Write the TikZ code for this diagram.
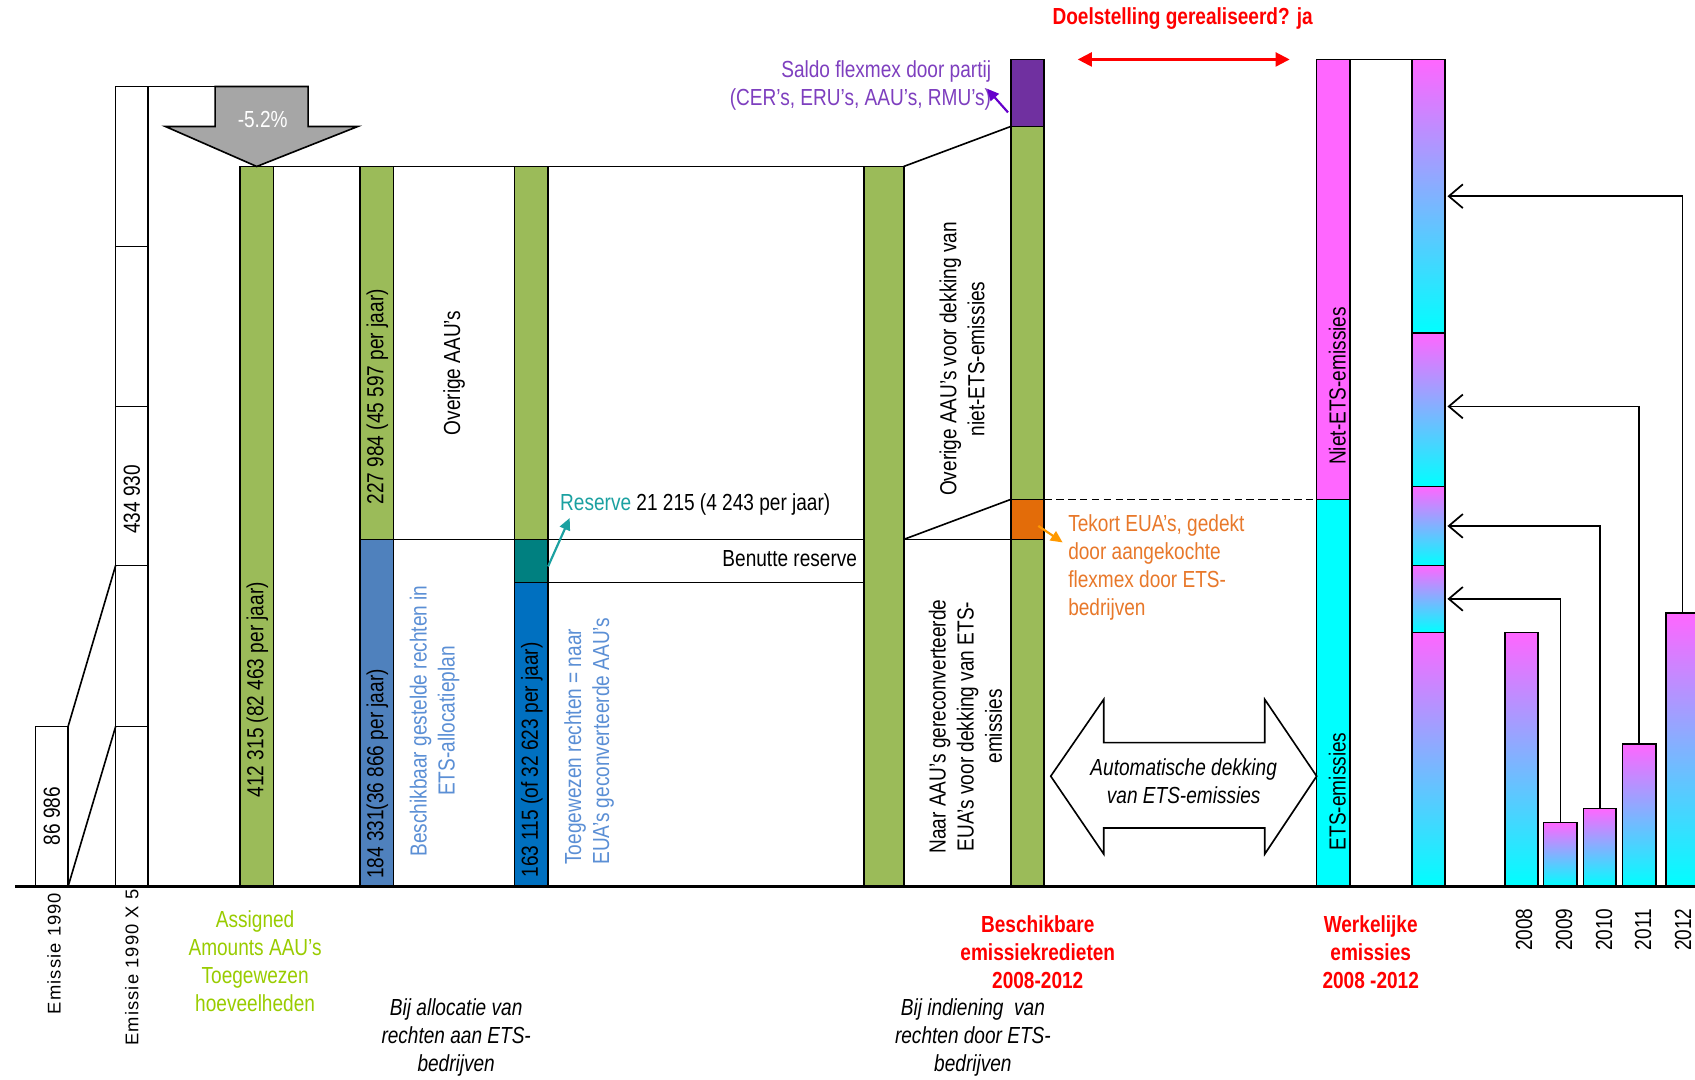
\documentclass[tikz,border=0pt]{standalone}
\usepackage{fontspec}
\setmainfont{Liberation Sans}[FakeStretch=0.82]
\newfontfamily\widefont{Liberation Sans}[LetterSpace=6]
\usetikzlibrary{arrows.meta,calc}
\definecolor{gbar}{HTML}{9BBB59}
\definecolor{blueA}{HTML}{4F81BD}
\definecolor{blueB}{HTML}{0070C0}
\definecolor{tealB}{HTML}{008080}
\definecolor{tealT}{HTML}{1BA1A1}
\definecolor{purpB}{HTML}{7030A0}
\definecolor{purpT}{HTML}{7E3FBF}
\definecolor{purpA}{HTML}{6600CC}
\definecolor{orangeB}{HTML}{E36C09}
\definecolor{orangeT}{HTML}{E8782A}
\definecolor{orangeA}{HTML}{FF9900}
\definecolor{grayA}{HTML}{A6A6A6}
\definecolor{magC}{HTML}{FF66FF}
\definecolor{midC}{HTML}{B6BEFF}
\definecolor{cyanC}{HTML}{00FFFF}
\definecolor{lblue}{HTML}{5B8FD5}
\definecolor{lime}{HTML}{99CC00}
\newcommand\bodyfont{\fontsize{21.5}{26}\selectfont}
\tikzset{
  barbox/.style={draw=black,line width=1.5pt,inner sep=0pt,outer sep=0pt,anchor=north west},
  grad/.style={top color=magC,middle color=midC,bottom color=cyanC},
  vtext/.style={rotate=90,inner sep=0pt},
  conn/.style={line width=1.5pt},
  yeararrow/.style={line width=1.6pt,-{Straight Barb[length=13pt,width=22pt,line width=1.6pt]},shorten >=2pt},
  redlbl/.style={red,font=\bodyfont\bfseries,align=center},
  itlbl/.style={font=\bodyfont\itshape,align=center},
}
\newcommand\mkbar[6]{\node[barbox,#6,minimum width=#3,minimum height={#5-#4}] (#1) at (#2,#4) {};}
\begin{document}
\begin{tikzpicture}[x=1pt,y=-1pt,font=\bodyfont]
\useasboundingbox (0,0) rectangle (1568,999);
\begin{scope}
\clip (0,0) rectangle (1568,999);
\fill[white] (0,0) rectangle (1568,999);

\coordinate (arrTL) at (199,80);
\coordinate (axL) at (14,820);
\coordinate (axR) at (1568,820);

% ---------- bars
\mkbar{e1990}{33}{30}{672}{820}{fill=white}
\mkbar{e5a}{107}{30}{80}{228}{fill=white}
\mkbar{e5b}{107}{30}{228}{376}{fill=white}
\mkbar{e5c}{107}{30}{376}{523}{fill=white}
\mkbar{e5d}{107}{30}{523}{672}{fill=white}
\mkbar{e5e}{107}{30}{672}{820}{fill=white}
\mkbar{g1}{222}{31}{154}{820}{fill=gbar}
\mkbar{b2g}{333}{31}{154}{499}{fill=gbar}
\mkbar{b2b}{333}{31}{499}{820}{fill=blueA}
\mkbar{b3g}{476}{31}{154}{499}{fill=gbar}
\mkbar{b3t}{476}{31}{499}{539}{fill=tealB}
\mkbar{b3b}{476}{31}{539}{820}{fill=blueB}
\mkbar{b4}{799}{37}{154}{820}{fill=gbar}
\mkbar{b5p}{935}{31}{55}{117}{fill=purpB}
\mkbar{b5g1}{935}{31}{117}{462}{fill=gbar}
\mkbar{b5o}{935}{31}{462}{499}{fill=orangeB}
\mkbar{b5g2}{935}{31}{499}{820}{fill=gbar}
\mkbar{b6m}{1218}{31}{55}{462}{fill=magC}
\mkbar{b6c}{1218}{31}{462}{820}{fill=cyanC}
\mkbar{b7a}{1306}{31}{55}{308}{grad}
\mkbar{b7b}{1306}{31}{308}{450}{grad}
\mkbar{b7c}{1306}{31}{450}{523}{grad}
\mkbar{b7d}{1306}{31}{523}{585}{grad}
\mkbar{b7e}{1306}{31}{585}{820}{grad}
\mkbar{y2008}{1392}{31}{585}{820}{grad}
\mkbar{y2009}{1428}{31}{761}{820}{grad}
\mkbar{y2010}{1465}{30}{748}{820}{grad}
\mkbar{y2011}{1501}{31}{688}{820}{grad}
\mkbar{y2012}{1541}{31}{567}{820}{grad}

% ---------- connectors
\draw[conn] (e5a.north east) -- (arrTL);
\draw[conn] (e1990.north east) -- (e5d.north west);
\draw[conn] (e1990.south east) -- (e5e.north west);
\draw[conn] (g1.north east) -- (b2g.north west);
\draw[conn] (b2g.north east) -- (b3g.north west);
\draw[conn] (b3g.north east) -- (b4.north west);
\draw[conn] (b2g.south east) -- (b3g.south west);
\draw[conn] (b3g.south east) -- (b4.north west |- b3g.south east);
\draw[conn] (b3t.south east) -- (b4.north west |- b3t.south east);
\draw[conn] (b4.north east) -- (b5g1.north west);
\draw[conn] (b4.north east |- b3g.south east) -- (b5o.north west);
\draw[conn] (b4.north east |- b3g.south east) -- (b5o.south west);
\draw[line width=1.5pt,dash pattern=on 7pt off 4pt] (b5o.north east) -- (b6c.north west);
\draw[conn] (b6m.north east) -- (b7a.north west);
\draw[line width=2pt] (axL) -- (axR);

% year arrows
\draw[yeararrow] (y2009.north) |- (b7d.east);
\draw[yeararrow] (y2010.north) |- (b7c.east);
\draw[yeararrow] (y2011.north) |- ([yshift=3pt]b7b.east);
\draw[yeararrow] (y2012.north) |- (b7a.east);

% ---------- gray -5.2% arrow
\draw[fill=grayA,line width=1.5pt,line join=miter]
  (arrTL) -- (285,80) -- (285,117) -- (331,117) -- (g1.north) -- (153,117) -- (199,117) -- cycle;
\node[white] (pct) at (243,111) {-5.2\%};

% ---------- double arrow Automatische dekking
\draw[fill=white,line width=1.5pt,line join=miter]
  (972,718) -- (1021,647) -- (1021,687) -- (1170,687) -- (1170,647) -- (1218,718)
  -- (1170,790) -- (1170,766) -- (1021,766) -- (1021,790) -- cycle;
\node[itlbl] (auto) at (1095,723) {Automatische dekking\\van ETS-emissies};

% ---------- red goal arrow
\coordinate (dA) at (997,55);
\coordinate (dB) at (1193,55);
\draw[red,line width=2pt,{Triangle[length=13pt,width=13pt]}-{Triangle[length=13pt,width=13pt]}] (dA) -- (dB);
\node[red,font=\bodyfont\bfseries] (goal) at (1094,17) {Doelstelling gerealiseerd? ja};

% ---------- texts
\node[vtext] (t86) at (48,755) {86 986};
\node[vtext] (t434) at (122,462) {434 930};
\node[vtext] (t412) at (238,638) {412 315 (82 463 per jaar)};
\node[vtext] (t227) at (349,367) {227 984 (45 597 per jaar)};
\node[vtext] (t184) at (349,716) {184 331(36 866 per jaar)};
\node[vtext] (tov) at (420,345) {Overige AAU’s};
\node[vtext] (t163) at (492,703) {163 115 (of 32 623 per jaar)};
\node[vtext,lblue,align=center] (tbes) at (402,667) {Beschikbaar gestelde rechten in\\ETS-allocatieplan};
\node[vtext,lblue,align=left,anchor=west] (ttoe) at (545,800) {Toegewezen rechten = naar\\EUA’s geconverteerde AAU’s};
\node[anchor=west,inner sep=0pt] (res) at (518,467) {\textcolor{tealT}{Reserve} 21 215 (4 243 per jaar)};
\node[anchor=east,inner sep=0pt] (ben) at (793,517) {Benutte reserve};
\draw[tealT,line width=2pt,-{Triangle[length=11pt,width=10pt]}] ([yshift=-5pt]b3t.east) -- ([xshift=9pt,yshift=-2pt]res.south west);
\node[vtext,align=center] (tovd) at (890,332) {Overige AAU’s voor dekking van\\niet-ETS-emissies};
\node[vtext,align=center] (tnaar) at (893,672) {Naar AAU’s gereconverteerde\\EUA’s voor dekking van ETS-\\emissies};
\node[purpT,align=right,anchor=east,inner sep=0pt] (sal) at (917,79) {Saldo flexmex door partij\\(CER’s, ERU’s, AAU’s, RMU’s)};
\draw[purpA,line width=2pt,-{Triangle[length=11pt,width=10pt]}] ([xshift=-18pt,yshift=-18pt]b5p.center) -- ([xshift=-4pt,yshift=-3pt]sal.east);
\node[orangeT,align=left,anchor=west,inner sep=0pt] (tek) at (988,525) {Tekort EUA’s, gedekt\\door aangekochte\\flexmex door ETS-\\bedrijven};
\draw[orangeA,line width=2pt,-{Triangle[length=11pt,width=10pt]}] ([xshift=10pt,yshift=-6pt]b5o.center) -- ([xshift=-5pt,yshift=-26pt]tek.north west);
\node[vtext] (tniet) at (1237,357) {Niet-ETS-emissies};
\node[vtext] (tets) at (1237,732) {ETS-emissies};
\foreach \yr/\xx in {2008/1410,2009/1447,2010/1484,2011/1520,2012/1557}
  \node[vtext] (lab\yr) at (\xx,860) {\yr};

% ---------- bottom labels
\node[vtext,font=\widefont\fontsize{17}{20}\selectfont] (le1) at (50,882) {Emissie 1990};
\node[vtext,font=\widefont\fontsize{17}{20}\selectfont] (le5) at (122,895) {Emissie 1990 X 5};
\node[lime,align=center] (lass) at (236,889) {Assigned\\Amounts AAU’s\\Toegewezen\\hoeveelheden};
\node[itlbl] (lall) at (422,960) {Bij allocatie van\\rechten aan ETS-\\bedrijven};
\node[redlbl] (lbes) at (960,881) {Beschikbare\\emissiekredieten\\2008-2012};
\node[itlbl] (lind) at (900,960) {Bij indiening\ \ van\\rechten door ETS-\\bedrijven};
\node[redlbl] (lwer) at (1268,881) {Werkelijke\\emissies\\2008 -2012};
\end{scope}
\end{tikzpicture}
\end{document}
